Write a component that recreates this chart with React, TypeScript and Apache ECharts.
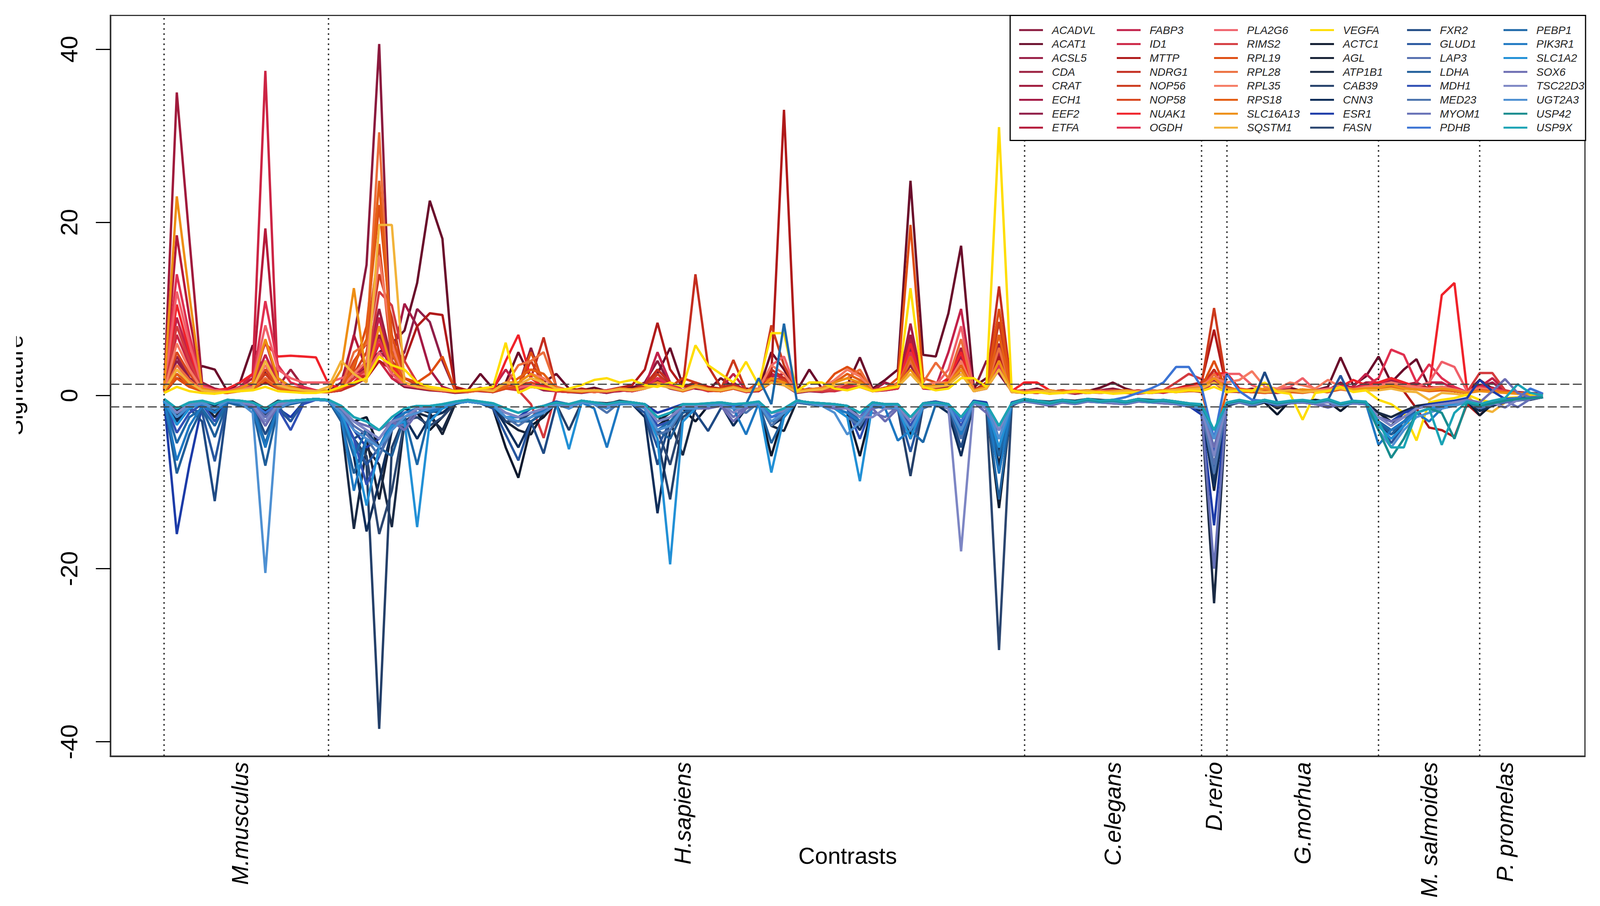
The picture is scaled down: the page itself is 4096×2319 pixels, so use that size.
import React, { useEffect, useRef } from "react";
import * as echarts from "echarts";

// ---------- categories / labels ----------
const GENES = [
  "ACADVL", "ACAT1", "ACSL5", "CDA", "CRAT", "ECH1", "EEF2", "ETFA",
  "FABP3", "ID1", "MTTP", "NDRG1", "NOP56", "NOP58", "NUAK1", "OGDH",
  "PLA2G6", "RIMS2", "RPL19", "RPL28", "RPL35", "RPS18", "SLC16A13", "SQSTM1",
  "VEGFA", "ACTC1", "AGL", "ATP1B1", "CAB39", "CNN3", "ESR1", "FASN",
  "FXR2", "GLUD1", "LAP3", "LDHA", "MDH1", "MED23", "MYOM1", "PDHB",
  "PEBP1", "PIK3R1", "SLC1A2", "SOX6", "TSC22D3", "UGT2A3", "USP42", "USP9X",
];
const COLORS = [
  "#8B1A3E", "#6A0D2B", "#9A2148", "#9C2040", "#A01A3C", "#A51A45", "#901E48", "#B51B3B",
  "#C2214A", "#CC2444", "#B01A1A", "#C42D1F", "#CC3A1C", "#D9471F", "#F0222A", "#E03050",
  "#F0606A", "#D43A3E", "#DF4E12", "#EC6E3C", "#F57A62", "#E45E14", "#EE8E14", "#F2B33A",
  "#FFDD00", "#0E1A2E", "#172236", "#1A2A44", "#24406A", "#0F2E5A", "#1C3BA8", "#2B4670",
  "#1F4A84", "#27569E", "#5670B0", "#1F5E9A", "#3050B4", "#4C74AE", "#6670B6", "#3C74D4",
  "#1D68A8", "#1E78C2", "#2290D6", "#6C6DB2", "#7D86C4", "#4E90D2", "#188C8E", "#1BA3B5",
];
const SPECIES = ["M.musculus", "H.sapiens", "C.elegans", "D.rerio", "G.morhua", "M. salmoides", "P. promelas"];
const SPECIES_START = [0, 13, 68, 82, 84, 96, 104];
const SPECIES_LABEL_AT = [6, 41, 75, 83, 90, 100, 106];
const Y_TICKS = [-40, -20, 0, 20, 40];
const THRESHOLDS = [1.3, -1.3];

// ---------- series values (110 contrasts each; segments 0-12|13-27|28-42|43-57|58-67|68-81|82-95|96-109) ----------
const V_ACADVL = "0.5 2.5 1.2 0.6 0.4 0.3 0.8 1.0 3.0 1.2 0.6 0.5 0.4 | 0.5 1.5 6.8 15.1 40.6 2.0 1.0 0.8 0.6 0.5 0.3 0.4 0.9 0.5 1.2 | 1.0 5.5 1.2 0.6 0.4 0.8 0.5 0.3 0.6 0.9 1.5 4.0 1.2 0.6 1.0 | 0.8 0.6 1.2 0.5 0.7 2.0 1.5 0.4 0.8 0.6 0.9 1.2 1.6 0.8 0.7 | 1.2 3.5 1.0 1.2 1.5 2.5 0.6 4.0 2.5 0.5 | 0.4 0.6 0.3 0.5 0.2 0.4 0.6 0.8 0.5 0.3 0.4 0.6 0.8 1.0 | 0.8 2.0 0.6 0.5 0.8 0.4 0.6 0.5 0.7 0.4 0.6 1.5 0.8 1.2 | 1.5 1.2 1.0 0.8 0.6 1.0 0.8 0.4 1.2 0.9 0.5 0.4 0.3 0.2";
const V_ACAT1 = "0.3 2.0 1.5 3.4 3.0 0.5 1.5 5.8 2.5 2.0 1.0 0.8 0.6 | 0.4 0.8 2.0 3.5 5.0 6.0 7.5 13.0 22.5 18.1 0.8 0.6 2.5 0.8 1.5 | 5.0 2.0 1.5 2.5 0.8 0.6 0.9 0.5 0.7 1.0 0.8 2.5 5.5 1.2 0.8 | 0.6 2.0 1.0 0.8 0.6 5.0 3.0 0.5 3.0 0.8 0.6 1.2 4.4 0.8 1.8 | 3.0 24.8 4.7 4.5 9.5 17.3 1.0 2.0 3.0 0.6 | 0.5 0.8 0.4 0.6 0.3 0.5 0.9 1.5 0.8 0.4 0.6 0.5 0.7 0.9 | 0.8 1.5 0.6 0.5 0.7 0.4 0.6 0.9 0.5 0.6 1.0 4.4 1.2 2.2 | 4.5 1.5 3.0 4.2 1.0 0.8 0.5 0.4 1.8 0.8 0.5 0.3 0.2 0.1";
const V_ACSL5 = "0.6 4.5 2.0 0.8 0.5 0.4 0.6 1.0 3.0 1.5 0.8 0.6 0.5 | 0.4 0.6 1.5 2.5 6.0 3.0 1.5 1.0 0.8 0.6 0.4 0.5 0.6 0.4 0.8 | 0.9 1.2 0.6 0.5 0.4 0.3 0.5 0.4 0.6 0.5 0.9 1.5 0.8 0.5 1.2 | 0.6 0.5 0.8 0.4 0.5 1.5 1.2 0.3 0.5 0.4 0.6 0.8 1.0 0.5 0.6 | 0.8 5.0 0.8 0.7 1.0 3.5 0.5 0.9 4.0 0.4 | 0.3 0.5 0.2 0.4 0.3 0.5 0.4 0.6 0.3 0.2 0.4 0.5 0.6 0.8 | 0.6 1.5 0.4 0.5 0.6 0.3 0.4 0.5 0.6 0.4 0.5 1.0 0.6 0.8 | 1.0 1.5 1.2 0.8 0.6 0.8 0.6 0.3 0.8 0.6 0.4 0.3 0.2 0.1";
const V_CDA = "0.4 2.5 1.2 0.6 0.5 0.4 1.0 1.2 2.5 1.0 3.0 1.0 0.5 | 0.5 0.8 2.0 4.0 10.0 4.0 2.0 1.2 0.8 0.6 0.5 0.4 0.7 0.5 1.0 | 0.8 1.0 0.8 0.6 0.5 0.4 0.6 0.5 0.8 0.6 0.9 2.0 1.0 0.6 1.5 | 0.7 0.6 1.0 0.5 0.6 1.8 2.0 0.5 0.7 0.5 0.6 1.0 1.2 0.6 0.8 | 1.0 6.0 1.0 1.2 1.5 4.0 0.6 1.0 5.5 0.5 | 0.4 0.6 0.3 0.5 0.4 0.3 0.5 0.4 0.6 0.3 0.5 0.4 0.6 0.7 | 0.5 3.0 0.5 0.4 0.6 0.4 0.5 0.4 0.6 0.5 0.4 0.8 0.6 1.0 | 1.2 2.0 1.5 1.0 0.8 1.0 0.8 0.4 0.9 0.6 0.4 0.3 0.2 0.1";
const V_CRAT = "0.8 35.0 18.0 1.5 0.8 0.5 0.8 1.5 3.5 1.2 0.8 0.6 0.5 | 0.5 0.8 2.5 3.0 7.0 2.5 1.5 1.0 0.8 0.6 0.4 0.5 0.6 0.4 0.9 | 0.8 1.5 0.9 0.5 0.4 0.6 0.4 0.5 0.7 0.6 0.8 2.5 1.2 0.5 1.0 | 0.6 0.5 0.9 0.6 0.5 2.5 2.0 0.4 0.6 0.5 0.7 0.9 1.4 0.5 0.8 | 0.9 7.0 1.2 1.0 1.8 5.0 0.5 1.2 6.0 0.4 | 0.5 0.4 0.3 0.5 0.4 0.6 0.3 0.5 0.4 0.6 0.3 0.5 0.6 0.8 | 0.6 2.5 0.6 0.5 0.4 0.6 0.5 0.7 0.4 0.5 0.6 1.2 0.8 1.5 | 1.5 2.0 1.2 1.5 0.8 0.6 0.8 0.4 1.2 0.8 0.4 0.3 0.2 0.1";
const V_ECH1 = "0.5 3.0 1.5 0.8 0.6 0.4 0.9 1.0 2.5 1.0 0.7 0.5 0.4 | 0.4 0.6 1.5 2.0 5.0 4.0 10.6 8.0 3.0 1.0 0.5 0.4 0.6 0.5 0.8 | 1.0 1.2 0.8 0.5 0.4 0.5 0.6 0.4 0.5 0.7 0.8 2.0 1.5 0.6 1.0 | 0.5 0.6 1.5 0.5 0.7 2.0 1.5 0.4 0.8 0.6 0.5 0.9 1.2 0.6 1.5 | 1.0 8.3 1.0 1.0 2.0 4.5 0.6 1.0 4.5 0.5 | 0.3 0.5 0.4 0.3 0.5 0.4 0.6 0.5 0.3 0.4 0.5 0.4 0.6 0.9 | 0.5 2.0 0.5 0.6 0.4 0.5 0.6 0.4 0.5 0.6 0.5 1.0 0.7 1.2 | 1.2 1.8 1.0 1.2 0.7 0.9 0.6 0.3 1.0 1.5 0.5 0.3 0.2 0.1";
const V_EEF2 = "0.6 4.0 2.0 0.8 0.5 0.4 0.7 1.2 4.0 1.5 0.8 0.6 0.5 | 0.4 0.7 1.2 2.0 4.0 3.0 5.0 10.0 8.5 4.0 0.6 0.5 0.7 0.4 0.9 | 0.8 1.5 0.9 0.6 0.5 0.4 0.5 0.3 0.6 0.5 0.8 1.8 1.0 0.5 0.9 | 0.6 0.7 0.8 0.5 0.6 1.5 1.8 0.4 0.6 0.5 0.8 0.7 1.1 0.5 0.7 | 0.8 5.5 0.9 0.8 1.2 3.0 0.5 0.8 3.5 0.4 | 0.4 0.3 0.5 0.4 0.2 0.4 0.5 0.3 0.4 0.5 0.3 0.4 0.5 0.6 | 0.4 1.8 0.5 0.4 0.5 0.4 0.3 0.5 0.4 0.5 0.4 0.9 0.6 0.8 | 0.9 1.2 0.8 1.0 0.6 0.7 0.5 0.3 0.8 0.6 0.4 0.3 0.2 0.1";
const V_ETFA = "0.6 18.5 9.0 1.2 0.6 0.5 1.0 2.0 19.3 2.0 1.0 0.8 0.5 | 0.5 1.0 7.0 3.0 8.0 2.5 1.5 1.0 0.7 0.5 0.4 0.6 0.5 0.4 1.0 | 0.9 1.2 1.0 0.5 0.6 0.4 0.5 0.4 0.7 0.6 0.9 3.0 1.5 0.6 1.2 | 0.7 0.6 1.2 0.6 0.5 2.2 2.5 0.4 0.7 0.6 0.6 1.0 1.5 0.5 0.9 | 1.0 6.5 1.0 1.2 1.6 5.5 0.5 1.0 5.0 0.5 | 0.4 0.5 0.3 0.6 0.4 0.3 0.5 0.4 0.6 0.3 0.4 0.5 0.7 0.8 | 0.6 2.5 0.5 0.6 0.5 0.4 0.5 0.6 0.5 0.4 0.5 1.2 0.7 1.0 | 1.2 1.5 1.0 1.2 0.7 0.8 0.6 0.4 1.0 0.8 0.4 0.3 0.2 0.1";
const V_FABP3 = "0.7 9.0 4.5 1.0 0.6 0.5 0.8 1.2 4.7 1.5 0.8 0.7 0.5 | 0.4 0.8 2.5 3.5 9.0 3.0 2.0 1.5 1.0 0.6 0.4 0.5 0.6 0.8 3.0 | 1.0 1.2 0.8 0.6 0.5 0.4 0.6 0.5 0.6 0.5 1.0 5.0 1.5 0.6 1.2 | 0.6 0.8 2.5 0.6 0.7 2.5 2.0 0.4 0.7 0.5 0.6 0.9 1.2 0.6 0.8 | 1.2 5.0 0.9 1.0 5.0 10.0 0.6 1.0 4.0 0.5 | 0.5 0.4 0.6 0.3 0.5 0.4 0.3 0.5 0.6 0.4 0.5 0.3 0.6 0.8 | 0.6 2.0 0.6 0.5 0.4 0.5 0.6 0.4 0.5 0.6 0.4 1.0 1.0 2.5 | 1.2 2.0 1.5 1.0 1.5 1.5 0.8 0.4 1.0 2.0 0.6 0.3 0.2 0.1";
const V_ID1 = "0.5 7.0 3.5 0.8 0.6 0.5 1.0 2.5 37.5 1.2 0.8 0.6 0.5 | 0.4 0.6 1.5 2.0 4.0 2.0 1.2 0.9 0.7 0.5 0.4 0.5 0.6 0.4 0.8 | 0.7 1.0 0.8 0.5 0.4 0.6 0.4 0.5 0.6 0.5 0.8 1.5 1.0 0.5 0.9 | 0.5 0.6 0.8 0.4 0.6 1.5 1.2 0.4 0.6 0.5 0.5 0.8 1.0 0.5 0.6 | 0.8 4.0 0.8 0.9 1.2 3.0 0.5 0.8 3.0 0.4 | 0.4 0.3 0.5 0.4 0.3 0.5 0.4 0.3 0.5 0.4 0.3 0.5 0.4 0.6 | 0.5 1.5 0.4 0.5 0.4 0.3 0.5 0.4 0.6 0.4 0.5 0.8 0.5 0.7 | 1.0 1.2 0.8 0.9 0.6 0.7 0.5 0.3 0.7 0.6 0.4 0.3 0.2 0.1";
const V_MTTP = "0.4 2.0 1.0 0.6 0.5 0.4 0.6 0.8 1.5 0.8 0.6 0.5 0.4 | 0.5 0.7 1.5 2.0 4.0 3.0 4.0 8.0 9.5 9.3 1.0 0.6 0.8 0.5 1.0 | 1.2 1.5 1.0 0.6 0.5 0.8 0.5 0.6 0.9 1.2 3.0 8.4 3.0 1.0 1.5 | 1.0 0.8 1.2 0.6 0.8 2.5 33.0 0.8 0.6 0.5 0.7 0.9 1.2 0.6 0.8 | 1.0 4.0 1.0 0.9 1.2 3.0 0.6 0.8 4.5 0.5 | 0.6 0.5 0.4 0.6 0.3 0.5 0.4 0.6 0.5 0.3 0.5 0.4 0.8 1.2 | 1.5 7.6 0.8 0.6 0.5 0.6 0.4 0.5 0.7 0.4 0.5 1.0 0.8 1.0 | 1.0 1.2 0.5 -1.5 -3.7 -4.0 -4.8 -1.0 -2.3 -0.8 -0.5 -0.3 -0.2 0.0";
const V_NDRG1 = "0.5 2.5 1.2 0.6 0.4 0.5 0.7 0.9 2.0 1.0 0.7 0.5 0.4 | 0.4 0.6 1.2 2.5 5.0 2.5 1.5 1.0 0.8 0.6 0.4 0.5 0.6 0.5 0.9 | 1.2 2.0 6.7 1.0 0.6 0.5 0.4 0.6 0.8 0.7 1.2 3.0 1.5 1.0 14.0 | 3.4 1.0 1.2 0.6 0.8 3.0 2.0 0.5 0.7 0.6 0.8 1.0 1.4 0.6 0.9 | 1.0 4.5 0.9 1.0 1.5 3.5 0.6 1.5 12.6 0.6 | 0.5 0.6 0.4 0.3 0.5 0.4 0.6 0.3 0.5 0.4 0.5 0.6 0.7 0.9 | 1.0 3.0 0.6 0.5 0.4 0.6 0.5 0.4 0.6 0.5 0.4 0.8 0.9 1.0 | 1.0 1.5 1.2 0.8 0.9 1.0 0.7 0.4 0.8 0.6 0.4 0.3 0.2 0.1";
const V_NOP56 = "0.5 3.0 1.5 0.7 0.5 0.4 0.6 0.9 2.5 1.0 0.6 0.5 0.4 | 0.4 0.8 2.5 5.0 14.0 9.0 2.0 1.2 0.8 0.6 0.4 0.5 0.6 0.4 0.8 | 1.0 4.0 1.2 0.6 0.5 0.4 0.6 0.5 0.8 0.6 0.9 2.5 1.0 2.0 1.5 | 0.8 0.7 4.1 0.6 0.7 8.1 3.5 0.5 0.6 0.5 0.7 1.2 1.5 0.6 0.8 | 1.0 5.0 1.0 1.2 1.5 4.0 0.6 1.0 8.5 0.5 | 0.4 0.5 0.3 0.6 0.4 0.5 0.3 0.5 0.4 0.6 0.4 0.5 0.6 0.8 | 1.2 10.1 1.0 0.6 0.5 0.4 0.6 0.5 0.4 0.6 0.5 0.9 0.8 1.0 | 1.0 1.5 1.0 0.8 0.7 0.8 0.6 0.3 0.9 0.6 0.4 0.3 0.2 0.1";
const V_NOP58 = "0.5 5.0 2.5 0.8 0.5 0.4 0.7 0.9 3.0 1.2 0.7 0.5 0.4 | 0.4 0.9 4.0 6.0 17.5 4.0 1.5 1.0 0.8 0.6 0.4 0.5 0.7 0.5 0.9 | 0.9 1.5 1.0 0.6 0.4 0.5 0.6 0.4 0.7 0.6 0.8 2.0 1.0 0.6 1.2 | 0.7 0.6 1.0 0.5 1.5 2.0 1.8 0.4 0.6 0.5 0.8 1.5 1.5 0.5 0.7 | 1.0 4.5 0.9 1.0 1.2 3.5 0.5 0.9 3.5 0.4 | 0.3 0.5 0.4 0.3 0.5 0.4 0.6 0.3 0.5 0.4 0.3 0.5 0.6 0.7 | 0.8 2.5 0.6 0.5 0.4 0.5 0.4 0.6 0.5 0.4 0.5 0.8 0.6 0.9 | 1.0 1.5 1.2 0.9 0.7 0.8 0.6 0.4 0.8 0.6 0.4 0.3 0.2 0.1";
const V_NUAK1 = "0.6 10.5 5.0 1.2 0.6 0.8 1.5 2.5 6.0 4.5 4.6 4.5 4.4 | 1.3 0.8 1.5 3.0 6.0 3.5 1.5 1.0 0.8 0.6 0.4 0.6 0.8 0.5 4.0 | 7.0 2.0 1.0 0.6 0.5 0.4 0.6 0.5 0.7 0.6 0.9 2.0 1.0 0.6 1.2 | 0.7 0.6 1.0 0.5 0.6 2.0 1.5 0.4 0.6 0.5 0.7 0.9 1.2 0.5 0.8 | 1.0 6.0 1.0 1.0 2.0 5.0 0.6 1.0 4.0 0.5 | 1.5 1.5 0.6 0.4 0.5 0.3 0.5 0.4 0.6 0.5 0.4 0.6 0.8 1.0 | 1.2 2.5 2.6 0.8 0.6 0.5 0.4 0.6 0.5 0.4 0.6 1.0 1.8 1.2 | 1.5 2.0 1.5 1.0 0.8 11.6 13.0 0.6 1.0 0.8 0.5 0.3 0.2 0.1";
const V_OGDH = "0.7 14.0 7.0 1.2 0.6 0.5 1.0 1.5 10.9 3.5 1.5 1.0 0.6 | 0.5 0.8 2.0 3.0 6.5 3.0 1.5 1.0 0.8 0.6 0.4 0.5 0.6 0.5 1.0 | 0.9 1.2 0.8 0.5 0.6 0.4 0.5 0.6 0.8 0.6 0.9 2.0 1.2 0.6 1.0 | 0.6 0.7 1.0 0.5 0.6 2.0 1.5 0.4 0.7 0.5 0.6 0.9 1.2 0.6 0.7 | 0.9 5.0 0.9 1.0 1.5 4.0 0.5 0.9 3.5 0.4 | 0.4 0.6 0.3 0.5 0.4 0.6 0.3 0.5 0.4 0.3 0.5 0.4 0.6 0.8 | 0.8 2.0 0.6 0.5 0.6 0.4 0.5 0.6 0.4 0.5 0.6 1.0 0.8 1.2 | 2.0 5.3 4.7 1.5 3.6 2.0 1.0 0.4 1.0 0.8 0.5 0.3 0.2 0.1";
const V_PLA2G6 = "0.6 12.0 6.0 1.0 0.6 0.5 0.9 1.5 8.1 3.0 2.0 1.5 1.5 | 1.5 2.0 2.5 2.5 5.0 2.5 1.2 1.0 0.8 0.6 0.5 0.6 0.7 0.6 1.0 | 0.9 1.2 0.9 0.6 0.5 0.6 0.4 0.5 0.6 0.7 0.8 1.5 1.0 0.6 1.0 | 0.6 0.7 1.0 0.6 0.7 3.5 4.5 0.5 0.6 0.5 0.7 1.5 1.2 0.6 0.8 | 1.0 4.0 1.0 1.2 3.0 8.0 0.6 1.0 3.0 0.5 | 0.5 0.6 0.4 0.5 0.6 0.4 0.5 0.6 0.4 0.5 0.6 0.5 0.7 0.9 | 1.0 2.0 2.5 2.5 1.2 0.6 0.8 1.0 2.0 0.6 0.8 1.0 0.7 1.0 | 1.2 1.5 1.2 1.0 1.5 3.9 3.3 0.5 0.9 0.6 0.4 0.3 0.2 0.1";
const V_RIMS2 = "0.5 8.0 4.0 0.8 0.5 0.4 0.8 1.0 6.3 1.5 0.8 0.6 0.5 | 0.4 0.7 2.0 3.0 12.0 10.4 4.0 1.5 0.8 0.6 0.4 0.5 0.6 0.5 0.8 | 0.6 -1.0 -4.9 0.5 0.4 0.6 0.5 0.4 0.6 0.5 0.8 1.5 0.9 0.5 1.0 | 0.6 0.5 0.8 0.4 0.6 1.5 1.2 0.4 0.6 0.5 0.6 0.8 1.0 0.5 0.7 | 0.8 4.0 0.8 0.9 1.2 3.0 0.5 0.8 3.0 0.4 | 0.4 0.3 0.5 0.4 0.3 0.5 0.4 0.6 0.3 0.4 0.5 0.6 1.5 2.5 | 1.9 1.5 0.6 0.5 0.4 0.6 0.5 0.4 0.5 0.6 0.4 0.8 0.6 0.8 | 1.0 1.2 0.8 0.9 0.6 0.7 0.5 0.4 2.6 2.6 0.6 0.3 0.2 0.1";
const V_RPL19 = "0.4 2.0 1.0 0.5 0.4 0.3 0.6 0.8 2.0 0.9 0.6 0.4 0.4 | 0.4 0.8 3.0 8.0 22.0 7.0 2.0 1.5 2.5 4.5 0.6 0.5 0.6 0.5 0.8 | 1.0 5.0 1.5 0.6 0.5 0.4 0.6 0.5 0.7 0.6 0.9 1.5 1.0 0.5 1.0 | 0.6 0.5 0.9 0.5 0.6 1.8 1.5 0.4 0.6 0.8 2.5 3.3 2.5 0.6 0.8 | 2.0 19.7 2.0 1.5 1.2 3.5 0.6 1.0 10.0 0.5 | 0.4 0.5 0.3 0.4 0.5 0.3 0.4 0.5 0.3 0.4 0.5 0.4 0.6 0.7 | 0.9 4.0 0.6 0.5 0.4 0.5 0.4 0.5 0.6 0.4 0.5 0.8 0.6 0.8 | 0.9 1.2 0.9 0.8 0.6 0.7 0.5 0.3 0.7 0.5 0.4 0.3 0.2 0.1";
const V_RPL28 = "0.5 3.5 1.8 0.6 0.4 0.3 0.6 0.8 2.0 0.9 0.6 0.5 0.4 | 0.5 1.0 5.0 6.0 30.4 3.0 1.5 1.0 0.8 0.6 0.5 0.4 0.6 0.5 1.2 | 3.5 4.0 5.0 1.0 0.5 0.6 0.4 0.5 0.7 0.6 0.8 1.5 0.9 0.5 1.0 | 0.6 0.7 0.9 0.5 0.6 1.5 1.2 0.4 0.7 0.9 1.5 2.0 3.0 0.6 0.7 | 1.5 4.0 1.5 3.8 2.0 6.5 0.6 1.0 5.5 0.5 | 0.3 0.4 0.5 0.3 0.4 0.5 0.3 0.4 0.5 0.3 0.4 0.5 0.6 0.6 | 0.8 2.5 0.6 0.5 0.6 0.4 0.5 0.4 0.6 0.5 0.4 0.8 0.6 0.9 | 1.0 1.2 0.9 0.8 0.6 0.8 0.5 0.3 0.7 0.6 0.4 0.3 0.2 0.1";
const V_RPL35 = "0.5 6.0 3.0 0.7 0.5 0.4 0.7 1.0 3.5 1.5 0.8 0.6 0.5 | 0.5 0.9 2.5 4.0 16.0 6.0 1.5 1.0 0.8 0.6 0.5 0.6 0.7 0.5 1.5 | 1.5 2.5 2.0 0.8 0.6 0.5 0.6 0.5 0.8 0.7 0.9 1.5 1.0 0.6 1.2 | 0.7 0.6 1.0 0.6 0.8 3.5 2.5 0.5 0.7 0.9 1.8 3.0 2.2 0.6 0.8 | 1.2 4.5 1.2 1.5 1.5 4.0 0.6 1.0 4.0 0.5 | 0.5 0.6 0.4 0.5 0.6 0.4 0.5 0.4 0.6 0.5 0.4 0.6 0.7 0.9 | 1.2 2.0 1.5 1.8 2.8 1.0 0.8 1.5 1.2 0.8 1.8 1.0 0.7 1.0 | 1.0 1.5 1.2 0.9 0.8 1.0 0.7 0.4 0.8 0.6 0.4 0.3 0.2 0.1";
const V_RPS18 = "0.4 2.5 1.2 0.5 0.4 0.3 0.5 0.7 1.8 0.8 0.5 0.4 0.4 | 0.4 0.8 3.5 6.5 24.8 5.0 1.5 1.0 0.7 0.6 0.4 0.5 0.6 0.5 1.0 | 2.0 3.0 2.5 0.8 0.5 0.4 0.6 0.5 0.7 0.6 0.8 1.5 0.9 0.5 1.0 | 0.6 0.5 0.8 0.5 0.6 1.5 1.2 0.4 0.6 0.7 1.5 2.5 1.8 0.5 0.7 | 1.0 4.5 1.0 1.2 1.2 3.5 0.5 0.9 7.0 0.4 | 0.3 0.4 0.3 0.5 0.4 0.3 0.4 0.5 0.3 0.4 0.3 0.5 0.4 0.5 | 0.5 -5.0 0.4 0.5 0.4 0.3 0.5 0.4 0.3 0.5 0.4 0.7 0.5 0.6 | 0.8 1.0 0.8 0.7 0.5 0.6 0.5 0.3 0.6 0.5 0.4 0.3 0.2 0.1";
const V_SLC16A13 = "0.8 23.0 11.5 0.8 0.5 0.4 0.8 1.5 6.5 2.0 1.0 0.6 0.5 | 0.6 3.0 12.4 2.0 8.0 3.0 1.5 1.0 0.8 0.6 0.5 0.6 0.7 0.6 1.5 | 1.5 2.5 1.5 0.8 0.6 0.5 0.6 0.5 0.8 0.7 0.9 1.5 1.0 0.6 1.2 | 0.8 0.7 1.0 0.6 0.7 2.0 1.5 0.5 0.7 0.8 1.5 2.0 1.5 0.6 0.8 | 1.2 3.0 1.0 1.2 1.5 3.0 0.6 1.0 4.0 0.5 | 0.4 0.5 0.6 0.4 0.5 0.6 0.4 0.5 0.6 0.4 0.5 0.6 0.7 0.8 | 0.9 2.0 0.8 0.7 0.6 0.8 0.6 0.5 0.7 0.6 0.5 0.9 0.7 0.8 | 0.9 1.2 0.8 0.7 0.6 0.8 0.6 0.3 0.5 0.4 0.3 0.2 0.2 0.1";
const V_SQSTM1 = "0.6 3.0 1.5 0.6 0.4 0.4 0.6 0.8 4.0 1.2 0.8 0.6 0.5 | 1.0 4.0 2.5 1.5 19.7 19.7 1.5 1.0 0.8 0.6 0.5 0.6 0.7 0.5 1.5 | 1.2 2.0 1.5 0.8 0.6 0.5 0.6 0.5 0.7 0.6 0.8 1.2 0.9 0.6 1.0 | 0.7 0.6 0.9 0.5 0.7 1.5 1.2 0.4 0.6 0.7 1.2 1.5 1.2 0.5 0.7 | 1.0 2.5 0.9 1.0 1.2 2.5 0.5 0.8 3.0 0.4 | 0.3 0.4 0.5 0.3 0.4 0.5 0.3 0.4 0.5 0.3 0.4 0.5 0.6 0.7 | 0.8 1.5 0.6 0.5 0.6 0.4 0.5 0.6 0.4 0.5 0.6 0.8 0.5 0.6 | 0.6 0.8 0.5 0.4 -0.5 0.3 0.2 0.0 -1.5 -1.9 -0.8 -0.3 -0.1 0.0";
const V_VEGFA = "0.3 1.0 0.5 0.3 0.2 0.4 0.5 0.6 1.0 0.5 0.4 0.3 0.3 | 0.5 1.0 1.5 2.0 4.5 3.5 3.0 1.5 1.0 0.8 0.5 0.6 0.8 1.0 6.1 | 0.3 1.0 0.8 0.6 0.8 1.2 1.8 2.0 1.5 1.8 1.2 1.0 1.5 1.0 5.8 | 3.5 2.5 1.5 3.9 1.2 7.2 7.2 0.5 1.5 1.5 0.8 0.6 1.0 0.5 0.8 | 1.0 12.4 1.0 0.6 0.8 2.0 2.0 1.0 31.0 0.6 | 0.3 0.4 0.2 0.3 0.5 0.3 0.4 0.2 0.3 0.4 0.3 0.5 0.4 0.6 | 0.5 1.0 0.4 0.6 0.5 1.5 0.4 0.2 -2.8 0.3 0.5 1.0 0.4 0.6 | -0.5 -1.0 -2.0 -5.2 -0.8 -0.5 -0.3 0.1 -0.5 -0.8 -0.3 -0.2 0.0 0.1";
const V_ACTC1 = "-0.4 -2.8 -1.5 -0.6 -1.0 -0.5 -0.8 -0.7 -1.5 -0.6 -0.8 -0.5 -0.4 | -0.5 -1.5 -3.0 -2.5 -6.0 -3.0 -1.5 -2.0 -4.0 -2.5 -0.8 -0.6 -0.9 -1.5 -6.0 | -9.5 -3.5 -2.5 -0.8 -1.5 -0.6 -0.9 -1.2 -0.7 -0.8 -1.0 -3.5 -2.5 -1.5 -3.0 | -1.2 -0.8 -1.5 -1.0 -0.9 -7.0 -2.0 -0.6 -0.8 -1.0 -1.5 -2.0 -7.0 -1.2 -1.0 | -1.5 -5.0 -1.2 -0.9 -1.5 -4.0 -0.8 -1.2 -13.0 -1.0 | -0.4 -0.6 -0.8 -0.5 -0.7 -0.4 -0.6 -0.5 -0.7 -0.4 -0.6 -0.5 -0.7 -1.0 | -1.5 -8.0 -0.9 -0.6 -1.2 -0.8 -2.2 -0.6 -0.8 -0.5 -0.7 -1.8 -0.6 -0.8 | -2.0 -3.0 -2.5 -1.5 -1.0 -1.2 -0.9 -0.6 -2.3 -1.0 -0.6 -0.3 -0.4 -0.2";
const V_AGL = "-0.5 -2.0 -1.2 -0.8 -2.5 -0.6 -0.7 -0.9 -2.0 -0.8 -0.6 -0.5 -0.4 | -0.6 -1.5 -4.0 -5.0 -12.0 -4.0 -2.0 -1.5 -2.0 -4.5 -1.0 -0.6 -0.8 -1.2 -3.0 | -4.0 -4.5 -2.0 -0.8 -1.0 -0.7 -0.9 -1.0 -0.6 -0.8 -1.2 -3.0 -2.0 -1.5 -1.2 | -1.0 -0.9 -1.5 -1.2 -0.8 -3.5 -4.1 -0.7 -0.9 -1.1 -1.2 -1.5 -3.5 -0.9 -1.2 | -1.2 -4.5 -1.0 -0.8 -1.2 -3.5 -0.7 -1.0 -8.0 -1.0 | -0.5 -0.7 -0.9 -0.6 -0.8 -0.5 -0.7 -0.6 -0.8 -0.5 -0.7 -0.6 -0.8 -1.0 | -1.2 -11.0 -0.8 -0.7 -0.9 -0.6 -1.5 -0.8 -0.7 -0.9 -0.6 -1.2 -0.8 -0.9 | -2.5 -3.5 -2.0 -1.5 -1.2 -1.0 -1.0 -0.6 -1.5 -0.9 -0.7 -0.5 -0.4 -0.2";
const V_ATP1B1 = "-0.4 -1.8 -1.0 -0.7 -1.5 -0.5 -0.6 -0.8 -1.8 -0.7 -0.6 -0.5 -0.4 | -0.6 -3.0 -15.4 -6.0 -8.0 -15.2 -3.0 -2.0 -2.5 -4.0 -0.9 -0.7 -0.8 -1.0 -2.5 | -3.0 -2.5 -1.5 -0.7 -1.2 -0.6 -0.8 -0.9 -0.7 -0.9 -1.0 -2.5 -3.0 -6.9 -1.5 | -1.2 -0.8 -1.2 -1.0 -0.7 -2.5 -2.0 -0.6 -0.8 -0.9 -1.0 -1.2 -2.5 -0.8 -1.0 | -1.0 -3.5 -0.9 -0.7 -1.0 -3.0 -0.6 -0.9 -6.5 -0.8 | -0.4 -0.6 -0.7 -0.5 -0.6 -0.4 -0.5 -0.6 -0.7 -0.4 -0.5 -0.6 -0.7 -0.9 | -1.4 -24.0 -1.0 -0.6 -0.8 -0.5 -0.9 -0.7 -0.6 -0.8 -0.5 -1.0 -0.7 -0.8 | -2.0 -2.5 -1.8 -1.2 -1.0 -0.9 -0.8 -0.5 -1.2 -0.8 -0.6 -0.4 -0.3 -0.2";
const V_CAB39 = "-0.5 -2.5 -1.2 -0.8 -2.0 -0.6 -0.7 -0.8 -2.5 -0.9 -0.7 -0.5 -0.4 | -0.5 -2.0 -6.0 -8.0 -38.5 -6.0 -2.5 -1.5 -1.8 -2.0 -0.9 -0.6 -0.8 -1.0 -3.0 | -3.0 -2.0 -1.5 -1.0 -4.0 -0.8 -0.9 -1.5 -0.8 -0.9 -1.5 -5.0 -12.0 -3.0 -1.5 | -1.0 -0.9 -1.2 -1.5 -0.8 -3.0 -2.5 -0.7 -0.9 -1.0 -1.2 -1.5 -3.0 -0.9 -1.2 | -1.5 -9.3 -1.2 -0.9 -1.2 -4.0 -0.8 -1.0 -9.0 -0.9 | -0.5 -0.7 -0.8 -0.6 -0.7 -0.5 -0.6 -0.7 -0.8 -0.5 -0.6 -0.7 -0.8 -1.0 | -1.5 -10.0 -1.0 -0.7 -0.9 -0.6 -1.0 -0.8 -0.7 -0.9 -0.6 -1.2 -0.8 -0.9 | -3.0 -4.0 -3.0 -1.5 -1.2 -1.0 -1.0 -0.6 -1.5 -1.0 -0.7 -0.5 -0.4 -0.2";
const V_CNN3 = "-0.4 -3.0 -1.5 -0.8 -1.2 -0.5 -0.7 -0.9 -2.0 -0.8 -0.6 -0.5 -0.4 | -0.5 -2.5 -7.0 -15.7 -10.0 -4.0 -2.5 -5.0 -2.5 -2.0 -0.9 -0.7 -0.9 -1.2 -3.5 | -6.0 -3.0 -2.0 -0.8 -1.2 -0.7 -0.9 -1.2 -0.8 -1.0 -2.5 -13.6 -4.0 -2.0 -1.5 | -1.2 -1.0 -3.5 -1.5 -0.9 -3.5 -2.5 -0.8 -1.0 -1.2 -1.5 -2.0 -4.0 -1.0 -1.2 | -1.5 -5.0 -1.2 -1.0 -2.0 -7.0 -0.9 -1.2 -8.5 -1.0 | -0.6 -0.8 -1.0 -0.7 -0.9 -0.6 -0.8 -0.7 -0.9 -0.6 -0.8 -0.7 -0.9 -1.2 | -1.8 -10.5 -1.2 -0.8 -1.0 -0.7 -1.2 -0.9 -0.8 -1.0 -0.7 -1.2 -0.9 -1.0 | -3.5 -4.5 -3.5 -2.0 -1.5 -1.2 -1.2 -0.7 -1.8 -1.2 -0.8 -0.5 -0.5 -0.2";
const V_ESR1 = "-0.6 -16.0 -8.0 -1.2 -1.5 -0.6 -0.9 -1.0 -2.5 -1.5 -2.5 -0.8 -0.5 | -0.6 -1.5 -4.0 -6.0 -5.0 -3.0 -1.5 -1.2 -1.5 -1.2 -0.8 -0.6 -0.9 -1.0 -2.0 | -2.5 -1.5 -1.2 -0.7 -1.0 -0.6 -0.8 -1.0 -0.7 -0.8 -1.0 -2.0 -1.5 -1.0 -1.2 | -0.9 -0.8 -1.0 -1.2 -0.7 -2.0 -1.5 -0.6 -0.8 -0.9 -1.0 -1.2 -2.0 -0.8 -1.0 | -1.0 -3.0 -0.9 -0.7 -1.0 -2.5 -0.6 -0.8 -5.0 -0.8 | -0.5 -0.7 -0.9 -0.6 -0.8 -0.5 -0.7 -0.6 -0.8 -0.5 -0.7 -0.6 -0.8 -1.2 | -2.2 -15.0 -0.9 -0.6 -1.0 -0.7 -1.2 -0.8 -0.7 -0.9 -0.6 -1.0 -0.8 -0.9 | -2.5 -3.0 -2.0 -1.5 -1.0 -0.8 -0.6 -0.3 1.8 0.5 -0.4 -0.3 -0.2 -0.1";
const V_FASN = "-0.5 -2.2 -1.2 -0.8 -1.8 -0.6 -0.7 -0.8 -2.2 -0.8 -0.7 -0.5 -0.4 | -0.5 -2.0 -5.0 -7.0 -16.0 -11.0 -3.0 -2.5 -3.5 -2.5 -0.9 -0.7 -0.8 -1.0 -2.5 | -2.5 -2.0 -1.5 -0.9 -1.5 -0.7 -0.9 -1.2 -0.8 -0.9 -1.2 -4.0 -8.0 -2.5 -1.5 | -1.0 -0.9 -1.2 -1.0 -0.8 -3.0 -2.5 -0.7 -0.9 -1.0 -1.2 -1.5 -3.0 -0.9 -1.1 | -1.2 -4.0 -1.0 -0.8 -1.2 -4.5 -0.8 -1.5 -29.4 -1.2 | -0.5 -0.7 -0.8 -0.6 -0.7 -0.5 -0.6 -0.7 -0.8 -0.5 -0.6 -0.7 -0.8 -1.0 | -1.5 -6.0 -1.0 -0.7 -0.9 -0.6 -1.0 -0.8 -0.7 -0.9 -0.6 -1.2 -0.8 -0.9 | -3.5 -4.0 -3.0 -1.5 -1.2 -1.0 -1.0 -0.6 -1.5 -1.0 -0.7 -0.5 -0.4 -0.2";
const V_FXR2 = "-0.5 -2.5 -1.5 -3.0 -12.2 -0.8 -0.9 -1.2 -4.5 -1.5 -3.0 -0.8 -0.5 | -0.6 -2.0 -5.0 -4.0 -6.0 -3.0 -2.0 -1.5 -1.8 -1.5 -0.9 -0.7 -0.9 -1.2 -2.5 | -2.5 -3.0 -6.7 -1.0 -1.2 -0.8 -0.9 -1.2 -0.8 -1.0 -2.0 -8.0 -3.0 -1.5 -2.0 | -4.1 -1.5 -1.2 -1.0 -0.8 -2.5 -2.0 -0.7 -0.9 -1.0 -1.2 -1.5 -2.5 -0.9 -1.2 | -1.5 -4.0 -1.2 -1.0 -1.5 -6.0 -0.8 -1.2 -6.0 -1.0 | -0.6 -0.8 -0.9 -0.7 -0.8 -0.6 -0.7 -0.8 -0.9 -0.6 -0.7 -0.8 -0.9 -1.1 | -1.2 -6.0 -0.8 -0.6 -0.9 2.7 -0.8 -0.7 -0.6 -0.8 -0.5 -1.0 -0.7 -0.8 | -3.0 -4.0 -3.5 -1.5 -1.2 -1.0 -0.9 -0.6 -1.5 -0.9 -0.6 -0.4 -0.3 -0.2";
const V_GLUD1 = "-0.6 -2.5 -1.5 -2.0 -7.6 -0.8 -0.9 -1.2 -3.5 -1.2 -3.0 -0.7 -0.5 | -0.6 -2.5 -5.0 -8.0 -6.0 -3.0 -2.0 -1.5 -1.5 -1.5 -0.9 -0.7 -0.9 -1.5 -4.5 | -7.5 -3.0 -2.0 -0.9 -1.2 -0.7 -0.9 -1.2 -0.8 -1.0 -2.0 -6.0 -3.0 -1.5 -1.5 | -1.2 -1.0 -1.2 -1.0 -0.8 -3.0 -2.0 -0.7 -0.9 -1.0 -1.2 -1.5 -3.0 -0.9 -1.2 | -1.5 -6.5 -1.2 -1.0 -1.5 -4.5 -0.9 -1.2 -6.0 -1.0 | -0.5 -0.8 -1.0 -0.7 -0.8 -0.6 -0.8 -0.7 -0.9 -0.6 -0.8 -0.7 -0.9 -1.2 | -1.5 -8.5 -1.0 -0.7 -0.9 -0.6 -1.0 -0.8 -0.7 -0.9 -0.5 2.3 -0.8 -0.9 | -3.0 -5.5 -3.5 -2.0 -1.5 -1.2 -1.0 -0.6 -1.5 -1.0 -0.7 -0.5 -0.4 -0.2";
const V_LAP3 = "-0.5 -2.0 -1.0 -0.8 -1.5 -0.6 -0.8 -0.9 -2.5 -1.0 -0.7 -0.5 -0.4 | -0.5 -1.8 -3.5 -4.5 -6.0 -3.5 -2.5 -1.5 -1.5 -1.2 -0.8 -0.6 -0.8 -1.0 -2.0 | -2.5 -2.0 -1.5 -0.9 -1.2 -0.7 -0.9 -1.2 -0.8 -0.9 -1.5 -3.5 -3.0 -1.5 -1.5 | -1.0 -0.9 -1.5 -1.2 -0.8 -2.5 -2.0 -0.7 -0.9 -1.0 -1.2 -1.5 -2.5 -1.5 -1.2 | -1.2 -3.5 -1.0 -0.8 -1.2 -4.0 -0.8 -1.5 -5.0 -1.0 | -0.6 -0.8 -1.2 -0.8 -0.9 -0.7 -0.8 -0.9 -1.0 -0.7 -0.8 -0.9 -1.0 -1.3 | -1.5 -8.0 -1.0 -0.8 -1.2 -0.7 -1.0 -0.9 -0.8 -1.0 -0.7 -1.2 -0.9 -1.0 | -3.0 -4.0 -3.0 -2.0 -1.5 -1.2 -1.0 -0.7 -1.5 -1.0 -0.8 -0.6 -0.4 -0.2";
const V_LDHA = "-0.6 -9.0 -4.5 -1.5 -4.8 -0.8 -1.2 -1.5 -8.1 -1.5 -1.0 -0.7 -0.5 | -0.6 -3.0 -9.0 -5.0 -6.0 -7.0 -2.5 -1.5 -1.8 -1.5 -0.9 -0.7 -0.9 -1.2 -2.5 | -3.0 -3.0 -2.0 -0.9 -1.5 -0.8 -1.0 -1.5 -0.8 -1.0 -1.5 -4.0 -5.0 -2.0 -1.5 | -1.2 -1.0 -1.5 -1.2 -0.9 -5.5 -2.5 -0.8 -1.0 -1.2 -1.5 -2.0 -3.5 -1.0 -1.2 | -1.5 -5.0 -1.2 -1.0 -1.5 -4.0 -0.9 -1.2 -12.0 -1.0 | -0.6 -0.8 -1.0 -0.7 -0.9 -0.6 -0.8 -0.7 -0.9 -0.6 -0.8 -0.7 -0.9 -1.2 | -1.5 -7.0 -1.0 -0.7 -1.0 -0.7 -1.0 -0.8 -0.7 -0.9 -0.6 -1.2 -0.8 -0.9 | -3.0 -4.5 -3.0 -2.0 -1.5 -1.2 -1.0 -0.6 -1.5 -1.0 -0.7 -0.5 -0.4 -0.2";
const V_MDH1 = "-0.6 -4.3 -2.0 -1.0 -3.0 -0.7 -0.9 -1.2 -3.0 -1.5 -4.0 -1.0 -0.5 | -0.6 -2.0 -5.0 -10.3 -7.0 -3.5 -2.0 -1.5 -1.5 -1.2 -0.8 -0.7 -0.9 -1.0 -2.0 | -2.5 -2.0 -1.5 -0.9 -1.2 -0.7 -0.9 -1.2 -0.8 -0.9 -1.5 -3.5 -3.0 -1.5 -1.5 | -1.0 -0.9 -1.2 -1.0 -0.8 -2.5 -2.0 -0.7 -0.9 -1.0 -1.2 -1.5 -5.0 -1.0 -1.2 | -1.2 -3.5 -1.0 -0.8 -1.2 -3.5 -0.8 -1.0 -5.0 -0.9 | -0.5 -0.7 -0.9 -0.6 -0.8 -0.5 -0.7 -0.6 -0.8 -0.5 -0.7 -0.6 -0.8 -1.1 | -1.5 -6.5 -0.9 -0.7 -0.9 -0.6 -1.0 -0.8 -0.7 -0.9 -0.6 -1.1 -0.8 -0.9 | -2.5 -3.5 -2.5 -1.5 -1.2 -1.0 -0.9 -0.6 -1.2 -0.9 -0.6 -0.5 -0.3 -0.2";
const V_MED23 = "-0.5 -2.5 -1.2 -0.9 -2.0 -0.6 -0.8 -1.0 -3.0 -1.0 -0.8 -0.6 -0.4 | -0.5 -2.0 -4.0 -5.0 -7.0 -4.0 -2.0 -1.5 -1.5 -1.2 -0.8 -0.6 -0.8 -1.0 -2.5 | -3.5 -2.5 -1.5 -0.9 -1.5 -0.7 -1.0 -2.0 -0.8 -0.9 -1.5 -4.5 -4.0 -1.5 -1.5 | -1.0 -0.9 -1.5 -2.0 -0.8 -3.5 -2.0 -0.7 -0.9 -1.0 -1.5 -2.5 -3.5 -1.2 -1.5 | -1.5 -4.0 -1.5 -0.9 -1.2 -5.0 -0.8 -1.2 -7.0 -1.0 | -0.6 -0.9 -1.1 -0.8 -0.9 -0.7 -0.8 -0.9 -1.0 -0.7 -0.8 -0.9 -1.0 -1.3 | -1.5 -9.0 -1.0 -0.8 -1.0 -0.7 -1.1 -0.9 -0.8 -1.0 -0.7 -1.2 -0.9 -1.0 | -3.5 -5.0 -3.5 -2.0 -1.5 -1.5 -1.2 -0.7 -1.5 -1.0 -0.7 -0.5 -0.4 -0.2";
const V_MYOM1 = "-0.5 -2.0 -1.0 -0.8 -1.5 -0.6 -0.8 -1.0 -2.5 -1.2 -0.8 -0.6 -0.4 | -0.5 -1.5 -3.0 -4.0 -5.0 -3.0 -3.5 -1.5 -1.5 -1.2 -0.8 -0.6 -0.8 -1.0 -2.0 | -2.5 -2.0 -1.5 -0.9 -1.2 -0.7 -0.9 -1.2 -0.8 -0.9 -1.2 -3.0 -2.5 -1.2 -1.2 | -1.0 -0.9 -2.5 -1.2 -0.8 -2.0 -1.8 -0.7 -0.9 -1.0 -1.2 -1.5 -2.5 -2.0 -2.5 | -1.2 -3.0 -1.0 -0.8 -1.2 -4.0 -0.8 -1.5 -4.0 -1.0 | -0.6 -0.8 -1.0 -0.7 -0.8 -0.6 -0.7 -0.8 -0.9 -0.6 -0.7 -0.8 -0.9 -1.2 | -1.5 -20.0 -1.0 -0.7 -0.9 -0.6 -1.0 -0.8 -0.7 -0.9 -1.2 -1.0 -0.8 -0.9 | -2.5 -3.5 -2.5 -1.5 -1.2 -1.0 -0.9 -0.6 -1.2 -0.8 -0.6 -1.35 -0.4 -0.2";
const V_PDHB = "-0.5 -2.0 -1.0 -0.8 -1.5 -0.5 -0.7 -0.9 -2.0 -0.9 -0.7 -0.5 -0.4 | -0.5 -1.5 -3.0 -4.0 -5.0 -3.0 -2.0 -1.5 -1.5 -1.2 -0.8 -0.6 -0.8 -1.0 -2.0 | -2.5 -2.0 -1.5 -0.9 -1.2 -0.7 -0.9 -1.2 -0.8 -0.9 -1.2 -3.0 -2.5 -1.2 -1.2 | -1.0 -0.9 -1.2 -1.0 -0.8 -2.5 -1.8 -0.7 -0.9 -1.0 -1.2 -1.5 -2.5 -0.9 -1.0 | -1.2 -3.0 -1.0 -0.8 -1.0 -3.0 -0.7 -1.0 -4.0 -0.9 | -0.5 -0.7 -0.9 -0.6 -0.8 -0.5 -0.6 -0.5 -0.2 0.3 0.8 1.5 3.3 3.3 | 1.0 -5.0 2.5 0.5 -0.5 -0.6 -0.8 -0.7 -0.6 -0.8 -0.5 -0.9 -0.7 -0.8 | -2.5 -3.0 -2.5 -1.5 -1.2 -1.0 -0.8 -0.5 -1.0 -0.7 -0.5 -0.3 0.8 0.2";
const V_PEBP1 = "-0.6 -5.5 -2.5 -1.5 -3.5 -0.7 -0.9 -1.2 -5.5 -1.2 -0.9 -0.6 -0.5 | -0.6 -2.5 -7.0 -4.0 -5.0 -3.0 -2.5 -8.0 -2.0 -1.5 -0.9 -0.7 -0.9 -1.2 -2.5 | -3.0 -2.5 -1.8 -1.0 -1.5 -0.8 -1.0 -1.5 -0.9 -1.0 -1.5 -4.0 -3.0 -1.5 -1.5 | -1.2 -1.0 -1.5 -1.0 2.0 -1.0 8.3 -0.5 -0.9 -1.0 -1.2 -1.5 -3.0 -1.0 -1.2 | -1.5 -4.0 -5.4 -1.0 -1.2 -4.0 -0.8 -1.2 -7.0 -1.0 | -0.5 -0.7 -0.9 -0.6 -0.8 -0.5 -0.7 -0.6 -0.8 -0.5 -0.7 -0.6 -0.8 -1.0 | -1.2 -6.0 -0.9 -0.7 -0.9 -0.6 -1.0 -0.8 -0.7 -0.9 -0.6 -1.0 -0.8 -0.9 | -3.0 -4.0 -3.0 -1.5 -1.2 -1.0 -0.9 -0.6 -1.2 -0.9 -0.6 -0.4 -0.3 -0.2";
const V_PIK3R1 = "-0.6 -7.5 -3.5 -1.2 -2.0 -0.7 -0.9 -1.5 -6.0 -1.2 -0.9 -0.6 -0.5 | -0.6 -2.5 -11.0 -5.0 -6.0 -3.0 -2.0 -1.5 -1.8 -1.5 -0.9 -0.7 -0.9 -1.2 -2.5 | -3.0 -2.5 -1.8 -1.0 -1.5 -0.8 -1.5 -6.0 -1.0 -1.0 -1.5 -4.0 -3.5 -1.5 -1.5 | -1.2 -1.0 -1.5 -4.5 -0.9 -3.0 -2.0 -0.7 -0.9 -1.0 -1.5 -2.0 -3.0 -1.0 -1.5 | -5.2 -4.0 -1.2 -1.0 -1.2 -4.5 -0.8 -1.2 -9.0 -1.0 | -0.6 -0.8 -1.0 -0.7 -0.9 -0.6 -0.8 -0.7 -0.9 -0.6 -0.8 -0.7 -0.9 -1.2 | -1.5 -5.0 -1.0 -0.7 -1.0 -0.7 -1.0 -0.8 -0.7 -0.9 -0.6 -1.2 -0.8 -0.9 | -5.7 -4.0 -3.0 -2.0 -3.0 -1.5 -1.0 -0.6 -1.2 -0.8 -0.6 -0.4 -0.3 -0.2";
const V_SLC1A2 = "-0.6 -3.4 -1.5 -0.9 -1.5 -0.6 -0.8 -1.0 -3.0 -1.0 -0.8 -0.6 -0.5 | -0.6 -2.0 -6.0 -12.7 -6.0 -3.5 -3.0 -15.2 -3.0 -1.5 -0.9 -0.7 -0.9 -1.2 -2.5 | -2.5 -2.0 -1.5 -1.0 -6.2 -0.8 -1.0 -1.5 -0.9 -1.0 -1.5 -5.0 -19.5 -3.0 -1.5 | -1.2 -1.0 -1.5 -1.2 -0.9 -8.9 -2.5 -0.7 -0.9 -1.0 -1.5 -2.5 -9.9 -1.0 -1.2 | -1.5 -5.0 -1.2 -1.0 -1.2 -4.0 -0.8 -1.2 -6.0 -1.0 | -0.6 -0.8 -1.0 -0.7 -0.9 -0.6 -0.8 -0.7 -0.9 -0.6 -0.8 -0.7 -0.9 -1.2 | -1.5 -6.0 -1.0 -0.7 -1.0 -0.7 -1.0 -0.8 -0.7 -0.9 -0.6 -1.2 -0.8 -0.9 | -3.5 -5.0 -3.5 -2.0 -1.5 -1.2 -1.0 -0.6 -1.2 -0.9 -0.6 -0.4 -0.3 -0.2";
const V_SOX6 = "-0.5 -2.0 -1.0 -0.8 -1.5 -0.6 -0.8 -1.2 -3.5 -1.2 -0.8 -0.6 -0.4 | -0.5 -1.5 -3.0 -3.5 -4.0 -3.0 -4.0 -2.0 -1.5 -1.2 -0.8 -0.6 -0.8 -1.0 -2.0 | -2.5 -2.0 -1.5 -0.9 -1.2 -0.7 -0.9 -1.2 -0.8 -0.9 -1.2 -3.0 -2.5 -1.5 -1.5 | -1.5 -1.2 -3.0 -1.5 -0.8 -2.0 -1.8 -0.7 -0.9 -1.2 -1.5 -1.5 -2.5 -1.5 -3.0 | -1.5 -3.0 -1.0 -0.8 -1.2 -4.0 -0.8 -2.0 -4.0 -1.0 | -0.7 -0.9 -1.2 -0.8 -1.0 -0.7 -0.8 -0.9 -1.0 -0.7 -0.8 -0.9 -1.0 -1.3 | -1.5 -6.0 -1.0 -0.8 -1.0 -0.7 -1.0 -0.9 -0.8 -1.0 -1.4 -1.0 -0.9 -1.0 | -2.5 -3.0 -2.5 -1.5 -1.2 -1.0 -0.8 -0.5 -0.8 0.5 1.9 0.3 -0.2 -0.1";
const V_TSC22D3 = "-0.5 -2.0 -1.0 -0.8 -1.5 -0.6 -0.8 -1.0 -3.0 -1.0 -0.8 -0.6 -0.4 | -0.5 -1.5 -3.0 -4.0 -5.0 -3.0 -2.5 -1.5 -1.5 -1.2 -0.8 -0.6 -0.8 -1.0 -2.0 | -2.5 -2.0 -1.5 -0.9 -1.2 -0.7 -0.9 -1.2 -0.8 -0.9 -1.2 -3.0 -2.5 -1.2 -1.2 | -1.0 -0.9 -2.0 -1.0 -0.8 -2.0 -1.8 -0.7 -0.9 -1.0 -1.2 -1.5 -2.5 -2.5 -1.5 | -1.2 -3.0 -1.0 -0.8 -1.5 -18.0 -0.8 -1.5 -4.0 -1.0 | -0.6 -0.8 -1.0 -0.7 -0.8 -0.6 -0.7 -0.8 -0.9 -0.6 -0.7 -0.8 -0.9 -1.2 | -1.5 -7.0 -1.0 -0.7 -0.9 -0.6 -1.0 -0.8 -0.7 -0.9 -0.8 -1.0 -0.8 -0.9 | -2.5 -3.5 -2.5 -1.5 -1.2 -1.0 -0.8 -0.6 -1.0 -0.8 -1.4 -0.5 -0.3 -0.2";
const V_UGT2A3 = "-0.5 -2.5 -1.2 -0.9 -1.5 -0.6 -0.8 -2.0 -20.5 -1.5 -0.8 -0.6 -0.5 | -0.6 -2.0 -4.0 -5.0 -6.0 -4.0 -2.5 -2.0 -1.5 -1.2 -0.8 -0.6 -0.9 -1.0 -2.5 | -3.0 -2.5 -2.0 -1.0 -1.5 -0.8 -1.0 -1.5 -0.9 -1.0 -1.5 -4.0 -3.5 -1.5 -1.5 | -1.2 -1.0 -1.5 -1.2 -0.9 -3.0 -2.0 -0.7 -0.9 -1.2 -2.0 -4.5 -3.0 -1.0 -1.2 | -1.5 -4.0 -1.2 -1.0 -1.2 -4.0 -0.8 -1.2 -5.0 -1.0 | -0.6 -0.8 -1.0 -0.7 -0.9 -0.6 -0.8 -0.7 -0.9 -0.6 -0.8 -0.7 -0.9 -1.2 | -1.5 -5.0 -1.0 -0.7 -1.0 -0.7 -1.0 -0.8 -0.7 -0.9 -0.6 -1.2 -0.8 -0.9 | -4.0 -6.0 -4.0 -2.5 -2.0 -1.5 -1.2 -0.6 -1.2 -0.9 -0.6 -0.4 -0.3 -0.2";
const V_USP42 = "-0.4 -1.5 -0.8 -0.6 -1.0 -0.5 -0.6 -0.8 -1.5 -0.7 -0.6 -0.5 -0.4 | -0.5 -1.2 -2.5 -3.0 -4.0 -2.5 -1.5 -1.2 -1.2 -1.0 -0.7 -0.5 -0.7 -0.9 -1.5 | -2.0 -1.5 -1.2 -0.8 -1.0 -0.6 -0.8 -1.0 -0.7 -0.8 -1.0 -2.5 -2.0 -1.0 -1.0 | -0.9 -0.8 -1.0 -0.9 -0.7 -2.0 -1.5 -0.6 -0.8 -0.9 -1.0 -1.2 -2.0 -0.8 -1.0 | -1.0 -2.5 -0.9 -0.8 -1.0 -2.5 -0.7 -1.0 -3.5 -0.9 | -0.5 -0.7 -0.9 -0.6 -0.8 -0.5 -0.7 -0.6 -0.8 -0.5 -0.7 -0.6 -0.8 -1.0 | -1.2 -4.0 -0.9 -0.6 -0.9 -0.6 -0.9 -0.7 -0.6 -0.8 -0.5 -1.0 -0.7 -0.8 | -4.0 -7.2 -5.0 -2.0 -1.5 -2.0 -5.0 -0.8 -1.2 -0.9 -0.6 -0.4 -0.3 -0.2";
const V_USP9X = "-0.4 -1.5 -0.8 -0.6 -1.0 -0.5 -0.6 -0.8 -1.5 -0.7 -0.6 -0.5 -0.4 | -0.5 -1.2 -2.5 -3.0 -4.0 -2.5 -1.5 -1.2 -1.2 -1.0 -0.7 -0.5 -0.7 -0.9 -1.5 | -2.0 -1.5 -1.2 -0.8 -1.0 -0.6 -0.8 -1.0 -0.7 -0.8 -1.0 -2.5 -2.0 -1.0 -1.0 | -0.9 -0.8 -1.0 -0.9 -0.7 -2.0 -1.5 -0.6 -0.8 -0.9 -1.0 -1.2 -2.0 -0.8 -1.0 | -1.0 -2.5 -0.9 -0.8 -1.0 -2.5 -0.7 -1.0 -3.5 -0.9 | -0.4 -0.6 -0.8 -0.5 -0.7 -0.4 -0.6 -0.5 -0.7 -0.4 -0.6 -0.5 -0.7 -0.9 | -1.0 -4.0 -0.8 -0.5 -0.8 -0.5 -0.8 -0.6 -0.5 -0.7 -0.4 -0.9 -0.6 -0.7 | -3.0 -6.0 -6.0 -2.0 -1.5 -5.7 -2.0 -0.7 -1.0 -0.6 -0.3 1.3 0.3 0.0";

const RAW = [
  V_ACADVL, V_ACAT1, V_ACSL5, V_CDA, V_CRAT, V_ECH1, V_EEF2, V_ETFA,
  V_FABP3, V_ID1, V_MTTP, V_NDRG1, V_NOP56, V_NOP58, V_NUAK1, V_OGDH,
  V_PLA2G6, V_RIMS2, V_RPL19, V_RPL28, V_RPL35, V_RPS18, V_SLC16A13, V_SQSTM1,
  V_VEGFA, V_ACTC1, V_AGL, V_ATP1B1, V_CAB39, V_CNN3, V_ESR1, V_FASN,
  V_FXR2, V_GLUD1, V_LAP3, V_LDHA, V_MDH1, V_MED23, V_MYOM1, V_PDHB,
  V_PEBP1, V_PIK3R1, V_SLC1A2, V_SOX6, V_TSC22D3, V_UGT2A3, V_USP42, V_USP9X,
];

const parse = (s: string): number[] =>
  s.split("|").flatMap((seg) => seg.trim().split(/\s+/).map(Number));

const FONT = '"Liberation Sans", Arial, Helvetica, sans-serif';

export default function App() {
  const ref = useRef<HTMLDivElement>(null);

  useEffect(() => {
    if (!ref.current) return;
    const chart = echarts.init(ref.current, undefined, { renderer: "svg" });
    const values = RAW.map(parse);
    values.forEach((v, k) => {
      if (v.length !== 110) console.warn(GENES[k], v.length);
    });

    const labelMap: Record<number, string> = {};
    SPECIES_LABEL_AT.forEach((x, k) => (labelMap[x] = SPECIES[k]));

    const lineSeries = GENES.map((g, k) => ({
      name: g,
      type: "line",
      data: values[k].map((v, i) => [i, v]),
      symbol: "none",
      showSymbol: false,
      silent: true,
      emphasis: { disabled: true },
      color: COLORS[k],
      lineStyle: { color: COLORS[k], width: 6 },
      z: 2,
    }));

    const refSeries = {
      name: "_ref",
      type: "line",
      data: [],
      silent: true,
      z: 5,
      markLine: {
        silent: true,
        symbol: ["none", "none"],
        label: { show: false },
        animation: false,
        data: [
          ...SPECIES_START.map((x) => ({
            xAxis: x,
            lineStyle: { color: "#222", width: 3.5, type: [4, 9] },
          })),
          ...THRESHOLDS.map((y) => ({
            yAxis: y,
            lineStyle: { color: "#444", width: 3, type: [23, 9] },
          })),
        ],
      },
    };

    const LEG_X = [2609, 2859, 3108, 3354, 3602, 3849];
    const legends = LEG_X.map((x, k) => ({
      data: GENES.slice(k * 8, k * 8 + 8),
      orient: "vertical",
      left: x,
      top: 62.1,
      padding: 0,
      itemWidth: 61,
      itemHeight: 5,
      itemGap: 5.66,
      icon: "rect",
      selectedMode: false,
      z: 60,
      itemStyle: { borderWidth: 0 },
      textStyle: {
        fontSize: 28,
        fontStyle: "italic",
        fontFamily: FONT,
        color: "#222",
        lineHeight: 30,
        padding: [0, 0, 0, 18],
      },
    }));

    chart.setOption({
      animation: false,
      backgroundColor: "#ffffff",
      textStyle: { fontFamily: FONT },
      grid: {
        left: 282.4,
        top: 39.5,
        right: 38.5,
        bottom: 383.7,
        show: true,
        borderColor: "#333",
        borderWidth: 3,
        backgroundColor: "transparent",
        containLabel: false,
        outerBoundsMode: "none",
      },
      xAxis: {
        type: "value",
        min: -4.256,
        max: 112.32,
        name: "Contrasts",
        nameLocation: "middle",
        nameGap: 226,
        nameMoveOverlap: false,
        nameTextStyle: { fontSize: 59, color: "#000", fontFamily: FONT },
        axisLine: { show: true, onZero: false, lineStyle: { color: "#333", width: 4 } },
        axisTick: { show: false },
        splitLine: { show: false },
        axisLabel: {
          customValues: SPECIES_LABEL_AT,
          formatter: (v: number) => labelMap[v] ?? "",
          rotate: 90,
          margin: 15,
          fontSize: 59,
          fontStyle: "italic",
          fontFamily: FONT,
          color: "#000",
        },
      },
      yAxis: {
        type: "value",
        min: -41.65,
        max: 43.9,
        axisLine: { show: true, onZero: false, lineStyle: { color: "#333", width: 4 } },
        axisTick: {
          show: true,
          customValues: Y_TICKS,
          length: 37,
          lineStyle: { color: "#000", width: 3 },
        },
        splitLine: { show: false },
        axisLabel: {
          customValues: Y_TICKS,
          rotate: 90,
          margin: 75,
          fontSize: 62,
          fontFamily: FONT,
          color: "#000",
        },
      },
      legend: legends,
      graphic: {
        elements: [
          {
            type: "text",
            x: 37,
            y: 986,
            rotation: Math.PI / 2,
            z: 1,
            style: {
              text: "Signature",
              fontSize: 60,
              fontFamily: FONT,
              fill: "#000",
              align: "center",
              verticalAlign: "middle",
              textAlign: "center",
              textVerticalAlign: "middle",
            },
          },
          {
            type: "rect",
            z: 2,
            shape: { x: 0, y: 0, width: 41.4, height: 2319 },
            style: { fill: "#ffffff" },
          },
          {
            type: "rect",
            z: 50,
            shape: { x: 2586, y: 39.5, width: 1473, height: 320 },
            style: { fill: "#ffffff", stroke: "#000", lineWidth: 3 },
          },
        ],
      },
      series: [...lineSeries, refSeries],
    });

    return () => chart.dispose();
  }, []);

  return (
    <div
      ref={ref}
      style={{ position: "fixed", left: 0, top: 0, width: 4096, height: 2319, background: "#fff" }}
    />
  );
}
